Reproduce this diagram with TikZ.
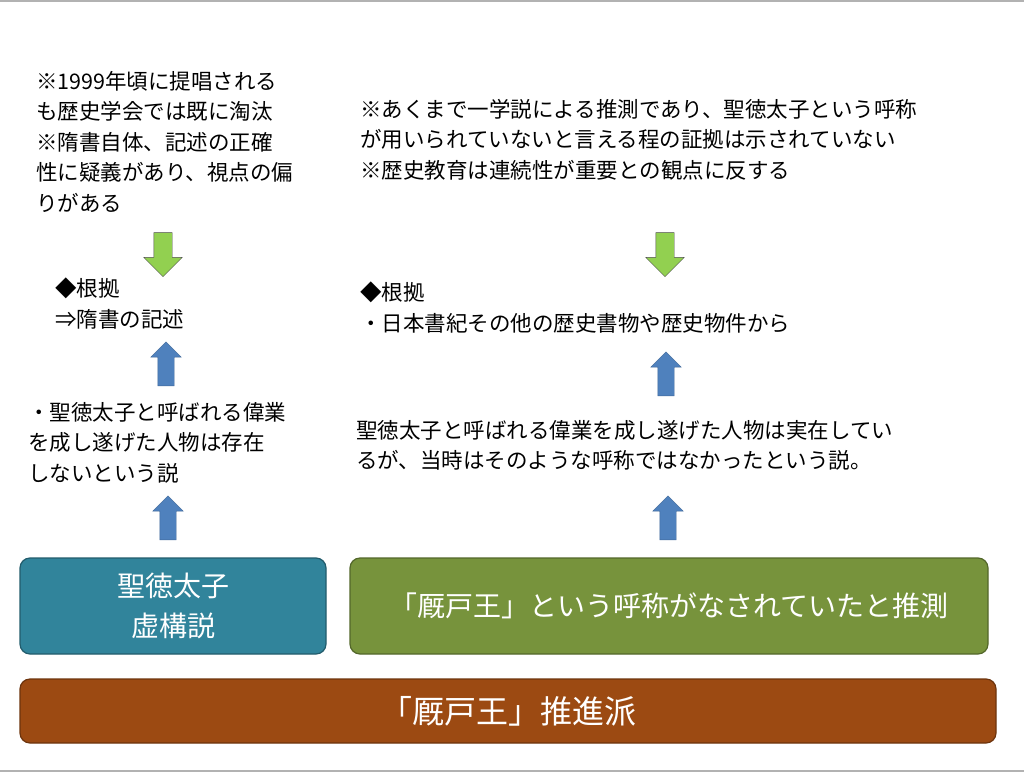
\documentclass[tikz,border=0pt]{standalone}
\usepackage{fontspec}
\setmainfont{Noto Sans CJK JP}
\usetikzlibrary{shapes.arrows,positioning}
\definecolor{brownbox}{HTML}{9C4A12}
\definecolor{tealbox}{HTML}{31849B}
\definecolor{greenbox}{HTML}{77933C}
\definecolor{bluearrow}{HTML}{4F81BD}
\definecolor{greenarrow}{HTML}{92D050}
\tikzset{
  box/.style={draw=#1!70!black, fill=#1, rounded corners=10pt, line width=1.2pt,
    text=white, align=center, inner sep=0pt},
  note/.style={anchor=north west, align=left, inner sep=0pt,
    font=\fontsize{21.5}{30.5}\selectfont},
  uparrow/.style={single arrow, draw=bluearrow!80!black, fill=bluearrow, rotate=90,
    minimum height=44pt, inner xsep=0pt, inner ysep=8pt, single arrow head extend=7pt},
  downarrow/.style={single arrow, draw=black!70, fill=greenarrow, rotate=-90,
    minimum height=44pt, inner xsep=0pt, inner ysep=9pt, single arrow head extend=10pt}
}
\begin{document}
\begin{tikzpicture}[x=1pt, y=-1pt]
  \useasboundingbox (0,0) rectangle (1024,773);
  \draw[gray!60, line width=2pt] (0,1) -- (1024,1);
  \draw[gray!60, line width=2pt] (0,771) -- (1024,771);
  % Boxes
  \node[box=brownbox, minimum width=976pt, minimum height=64pt,
    font=\fontsize{32}{38}\selectfont] (suishin) at (508,711) {「厩戸王」推進派};
  \node[box=tealbox, minimum width=306pt, minimum height=96pt,
    font=\fontsize{28}{40}\selectfont] (kyokou) at (173,606) {聖徳太子\\虚構説};
  \node[box=greenbox, minimum width=638pt, minimum height=96pt,
    font=\fontsize{28}{36}\selectfont] (suisoku) at (669,606) {「厩戸王」という呼称がなされていたと推測};
  % Block arrows
  \node[uparrow] (upL1) at (168,522) {};
  \node[uparrow] (upR1) at (668,522) {};
  \node[uparrow] (upL2) at (166,368) {};
  \node[uparrow] (upR2) at (666,378) {};
  \node[downarrow] (downL) at (163,250) {};
  \node[downarrow] (downR) at (665,250) {};
  % Texts
  \node[note] (chuiL) at (36,71) {※1999年頃に提唱される\\も歴史学会では既に淘汰\\※隋書自体、記述の正確\\性に疑義があり、視点の偏\\りがある};
  \node[note] (chuiR) at (360,99) {※あくまで一学説による推測であり、聖徳太子という呼称\\が用いられていないと言える程の証拠は示されていない\\※歴史教育は連続性が重要との観点に反する};
  \node[note] (konkyoL) at (55,278) {◆根拠\\⇒隋書の記述};
  \node[note] (konkyoR) at (360,282) {◆根拠\\・日本書紀その他の歴史書物や歴史物件から};
  \node[note] (setsuL) at (28,402) {・聖徳太子と呼ばれる偉業\\を成し遂げた人物は存在\\しないという説};
  \node[note] (setsuR) at (356,420) {聖徳太子と呼ばれる偉業を成し遂げた人物は実在してい\\るが、当時はそのような呼称ではなかったという説。};
\end{tikzpicture}
\end{document}
